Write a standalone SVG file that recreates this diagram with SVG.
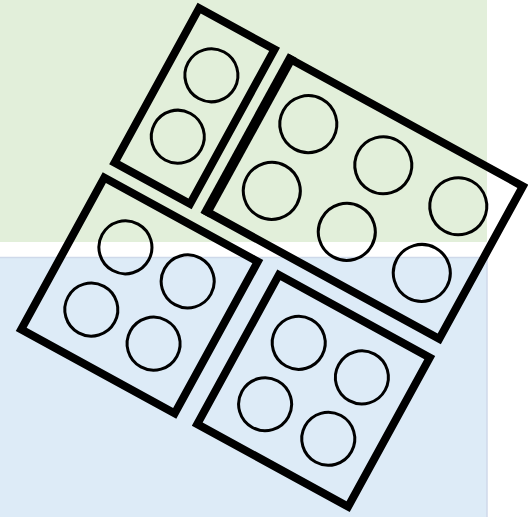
<svg xmlns="http://www.w3.org/2000/svg" width="528" height="517" viewBox="0 0 528 517">
  <style>
    .frame { fill: none; stroke: #000; stroke-width: 8; stroke-linejoin: miter; }
    .stud { fill: none; stroke: #000; stroke-width: 3; }
  </style>
  <rect width="528" height="517" fill="#ffffff"/>
  <g id="background">
    <rect x="0" y="0" width="487" height="242" fill="#E2EFDA"/>
    <rect x="-2" y="257.5" width="489" height="262" fill="#DDEBF7" stroke="#CFD9EA" stroke-width="1.5"/>
  </g>
  <g id="connectors"></g>
  <g id="brick-a" transform="translate(194.6 106) rotate(28.7)">
    <rect class="frame" x="-43" y="-88" width="86" height="176"/>
    <circle class="stud" cx="0" cy="-35" r="26.5"/>
    <circle class="stud" cx="0" cy="35" r="26.5"/>
  </g>
  <g id="brick-b" transform="translate(364.8 199) rotate(28.7)">
    <rect class="frame" x="-132.5" y="-87" width="265" height="174"/>
    <rect x="-137.5" y="-91" width="10" height="182" fill="#000"/>
    <circle class="stud" cx="-85.5" cy="-38.5" r="28.5"/>
    <circle class="stud" cx="0" cy="-38.5" r="28.5"/>
    <circle class="stud" cx="85.5" cy="-38.5" r="28.5"/>
    <circle class="stud" cx="-85.5" cy="37.5" r="28.5"/>
    <circle class="stud" cx="0" cy="37.5" r="28.5"/>
    <circle class="stud" cx="85.5" cy="37.5" r="28.5"/>
  </g>
  <g id="brick-c" transform="translate(139.5 295.5) rotate(28.7)">
    <rect class="frame" x="-87.5" y="-86.5" width="175" height="173"/>
    <circle class="stud" cx="-35.5" cy="-35.5" r="26.5"/>
    <circle class="stud" cx="35.5" cy="-35.5" r="26.5"/>
    <circle class="stud" cx="-35.5" cy="35.5" r="26.5"/>
    <circle class="stud" cx="35.5" cy="35.5" r="26.5"/>
  </g>
  <g id="brick-d" transform="translate(313.5 390.8) rotate(28.7)">
    <rect class="frame" x="-86" y="-85" width="172" height="170"/>
    <circle class="stud" cx="-36" cy="-35" r="26.5"/>
    <circle class="stud" cx="36" cy="-35" r="26.5"/>
    <circle class="stud" cx="-36" cy="35" r="26.5"/>
    <circle class="stud" cx="36" cy="35" r="26.5"/>
  </g>
</svg>
